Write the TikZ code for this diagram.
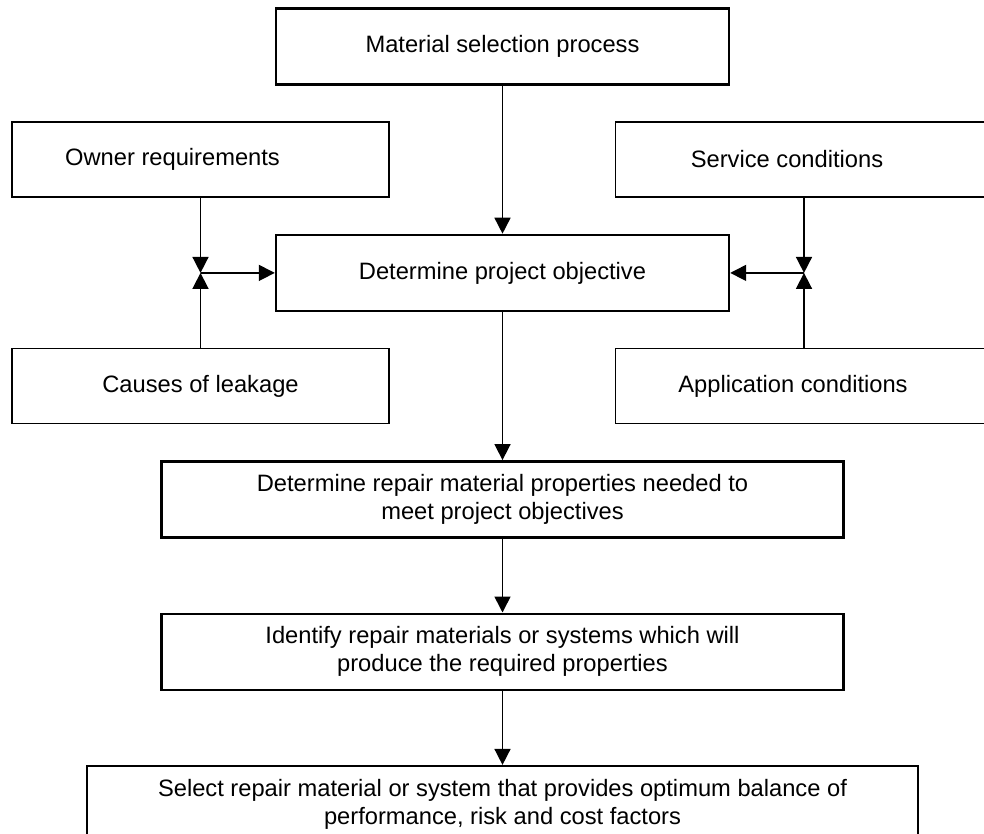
\documentclass[tikz,border=0pt]{standalone}
\usepackage{fontspec}
\setmainfont{Liberation Sans}
\usetikzlibrary{arrows.meta,positioning}

\begin{document}
\begin{tikzpicture}[
    x=0.5pt,y=-0.5pt,
    node distance=74pt,
    mainbox/.style={draw=black,line width=1.2pt,
      align=center,minimum height=38pt,font=\fontsize{11.85}{14}\selectfont},
    sidebox/.style={draw=black,line width=0.8pt,
      minimum width=188.5pt,minimum height=37.5pt,font=\fontsize{11.85}{14}\selectfont},
    arrow/.style={-{Triangle[length=8pt,width=8pt]},draw=black,line width=0.8pt}
  ]
    \clip (0,0) rectangle (984,834);
    % main column
    \node[mainbox,minimum width=226.5pt] (msp) at (502.5,46.5) {Material selection process};
    \node[mainbox,minimum width=226.5pt,below=of msp] (dpo) {Determine project objective};
    \node[mainbox,minimum width=341pt,below=of dpo] (drp)
      {Determine repair material properties needed to\\meet project objectives};
    \node[mainbox,minimum width=341pt,below=37pt of drp] (irm)
      {Identify repair materials or systems which will\\produce the required properties};
    \node[mainbox,minimum width=415.5pt,below=37pt of irm] (srm)
      {Select repair material or system that provides optimum balance of\\performance, risk and cost factors};
    % side inputs
    \node[sidebox] (own) at (200.5,159.5) {Owner requirements\hspace*{28pt}};
    \node[sidebox] (col) at (200.5,386) {Causes of leakage};
    \node[sidebox] (svc) at (804,159.5) {Service conditions\hspace*{17pt}};
    \node[sidebox] (app) at (804,386) {Application conditions\hspace*{11pt}};
    \coordinate (jl) at (own.south |- dpo.west);
    \coordinate (jr) at (svc.south |- dpo.east);
    \draw[arrow] (own)--(jl);\draw[arrow] (col)--(jl);\draw[arrow] (jl)--(dpo);
    \draw[arrow] (svc)--(jr);\draw[arrow] (app)--(jr);\draw[arrow] (jr)--(dpo);
    \draw[arrow] (msp)--(dpo);\draw[arrow] (dpo)--(drp);
    \draw[arrow] (drp)--(irm);\draw[arrow] (irm)--(srm);
  \end{tikzpicture}
\end{document}
